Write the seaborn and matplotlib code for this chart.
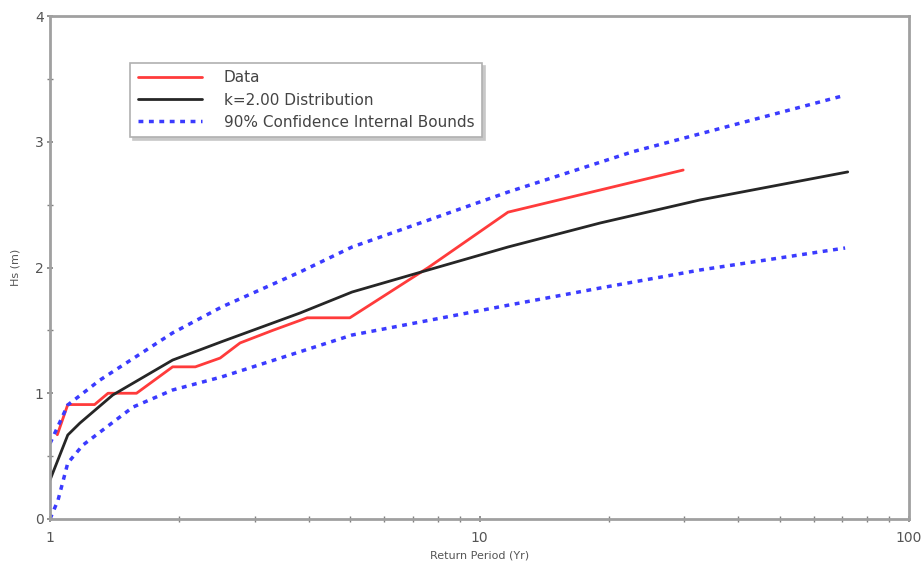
import matplotlib
matplotlib.use("Agg")
import matplotlib.pyplot as plt
import seaborn as sns
import numpy as np
from matplotlib.ticker import LogLocator, NullFormatter, FixedLocator

sns.set_theme(style="white")
plt.rcParams['font.family'] = ['DejaVu Sans']

# Data (return period in years, Hs in m)
data_x = [1.04, 1.10, 1.27, 1.365, 1.59, 1.93, 2.18, 2.49, 2.77, 3.3, 3.97, 4.99, 7.6, 11.65, 29.8]
data_y = [0.67, 0.91, 0.91, 1.00, 1.00, 1.21, 1.21, 1.28, 1.40, 1.50, 1.60, 1.60, 2.00, 2.44, 2.775]

dist_x = [1.0, 1.10, 1.174, 1.40, 1.93, 2.23, 2.51, 3.82, 5.05, 7.59, 11.65, 19.1, 32.6, 72.0]
dist_y = [0.31, 0.668, 0.763, 0.986, 1.264, 1.344, 1.41, 1.638, 1.805, 1.98, 2.163, 2.354, 2.537, 2.76]

upper_x = [1.0, 1.10, 1.307, 1.93, 2.51, 3.82, 5.05, 11.65, 22.7, 71.0]
upper_y = [0.60, 0.907, 1.105, 1.48, 1.686, 1.964, 2.163, 2.60, 2.92, 3.37]

lower_x = [1.0, 1.044, 1.10, 1.193, 1.56, 1.93, 2.51, 3.82, 5.05, 11.65, 19.1, 32.6, 71.0]
lower_y = [0.0, 0.15, 0.445, 0.588, 0.89, 1.026, 1.13, 1.33, 1.463, 1.70, 1.837, 1.98, 2.155]

labels = ["Data", "k=2.00 Distribution", "90% Confidence Internal Bounds"]

fig = plt.figure(figsize=(9.24, 5.74), dpi=100)
ax = fig.add_axes([50/924, 1-519/574, 859/924, 503/574])

blue = "#3b3bff"
sns.lineplot(x=data_x, y=data_y, ax=ax, color="#ff3b3b", lw=2, sort=False, label=labels[0])
sns.lineplot(x=dist_x, y=dist_y, ax=ax, color="#262626", lw=2, sort=False, label=labels[1])
sns.lineplot(x=upper_x, y=upper_y, ax=ax, color=blue, lw=2.5, sort=False, label=labels[2],
             linestyle=(0, (1.4, 1.6)))
sns.lineplot(x=lower_x, y=lower_y, ax=ax, color=blue, lw=2.5, sort=False,
             linestyle=(0, (1.4, 1.6)))

ax.set_xscale("log")
ax.set_xlim(1, 100)
ax.set_ylim(0, 4)
ax.set_xticks([1, 10, 100])
ax.set_xticklabels(["1", "10", "100"])
ax.xaxis.set_minor_locator(LogLocator(base=10, subs=np.arange(2, 10)))
ax.xaxis.set_minor_formatter(NullFormatter())
ax.set_yticks([0, 1, 2, 3, 4])
ax.yaxis.set_minor_locator(FixedLocator([0.5, 1.5, 2.5, 3.5]))

for s in ax.spines.values():
    s.set_color("#a0a0a0")
    s.set_linewidth(2)

ax.tick_params(axis="both", which="both", direction="inout", color="#808080",
               labelcolor="#555555", labelsize=10, bottom=True, left=True)
ax.tick_params(axis="both", which="major", length=5, width=1.2)
ax.tick_params(axis="both", which="minor", length=4, width=1)
ax.tick_params(axis="y", pad=2)
ax.tick_params(axis="x", pad=6)

ax.set_xlabel("Return Period (Yr)", fontsize=8, color="#555555", labelpad=4)
ax.set_ylabel("Hs (m)", fontsize=8, color="#555555", labelpad=10)

leg = ax.legend(loc="upper left", bbox_to_anchor=(0.093, 0.907), fontsize=11,
                handlelength=4.25, handletextpad=1.4, labelspacing=0.47,
                frameon=True, fancybox=False, borderpad=0.5, borderaxespad=0,
                shadow={"color": "#c8c8c8", "alpha": 1})
leg.get_frame().set_edgecolor("#b0b0b0")
leg.get_frame().set_linewidth(1.2)
for t in leg.get_texts():
    t.set_color("#444444")

fig.savefig("out.png", dpi=100)
